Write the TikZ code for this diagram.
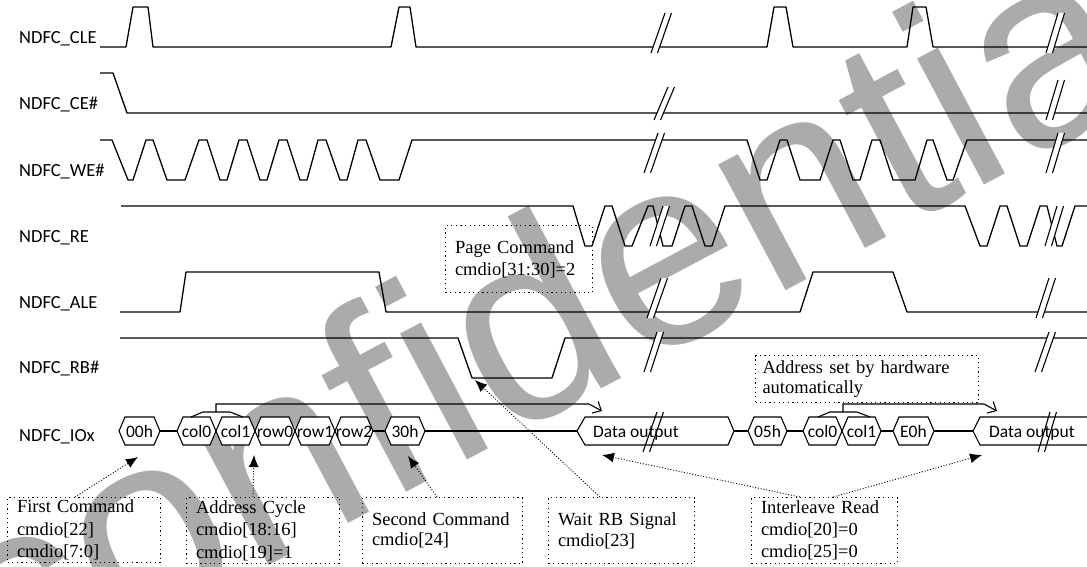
\documentclass[tikz,border=0pt]{standalone}
\usepackage{fontspec}
\setmainfont{Liberation Serif}
\newfontfamily\sigfont{Carlito}
\newfontfamily\wmfont{Liberation Sans}
\usetikzlibrary{arrows.meta,calc}

\newcommand\hexseg[4]{%
  \filldraw[hexline] (#2,431) -- (#2+6,417) -- (#3-6,417) -- (#3,431) -- (#3-6,445) -- (#2+6,445) -- cycle;
  \node[hextxt] (#1) at ({(#2+#3)/2},437) {#4};}
\newcommand\brkmark[4]{%
  \fill[white] (#1,#2) -- (#3,#4) -- (#3+6.5,#4) -- (#1+6.5,#2) -- cycle;
  \draw[brkline] (#1,#2) -- (#3,#4) (#1+6.5,#2) -- (#3+6.5,#4);}
\newcommand\brkmarkopen[4]{%
  \draw[brkline] (#1,#2) -- (#3,#4) (#1+6.5,#2) -- (#3+6.5,#4);}

\begin{document}
\begin{tikzpicture}[x=1pt,y=-1pt,
  sig/.style={line width=1.3pt, line join=round},
  hexline/.style={line width=1.1pt, fill=white, line join=miter},
  busline/.style={line width=1.1pt},
  brkline/.style={line width=1.1pt},
  lbl/.style={font=\sigfont\fontsize{18.5}{20}\selectfont, anchor=base west, inner sep=0pt},
  hextxt/.style={font=\sigfont\fontsize{17.5}{20}\selectfont, anchor=base, inner sep=0pt},
  dotbox/.style={draw, line width=1pt, dash pattern=on 1.2pt off 3.4pt, anchor=north west, align=left, inner xsep=9.5pt, inner ysep=0pt},
  dotarrow/.style={line width=0.9pt, dash pattern=on 1pt off 1.8pt, -{Latex[length=12pt,width=10pt]}},
  brarrow/.style={line width=1.1pt, -{Straight Barb[length=7pt,width=13pt]}},
  wm/.style={text=black!33, font=\wmfont\fontsize{270}{270}\selectfont, rotate=28, anchor=base west, inner sep=0pt}
]
\useasboundingbox (0,0) rectangle (1087,567);
\clip (0,0) rectangle (1087,567);

% watermark
\node[wm] (wm) at (1,708) {confidential};

% labels
\node[lbl] (lcle) at (19,43.5) {NDFC\_CLE};
\node[lbl] (lce)  at (19,110) {NDFC\_CE\#};
\node[lbl] (lwe)  at (19,176.5) {NDFC\_WE\#};
\node[lbl] (lre)  at (19,242) {NDFC\_RE};
\node[lbl] (lale) at (19,308) {NDFC\_ALE};
\node[lbl] (lrb)  at (19,373.5) {NDFC\_RB\#};
\node[lbl] (lio)  at (19,441) {NDFC\_IOx};

% CLE
\draw[sig] (100,47) -- (126,47) -- (133,7) -- (148,7) -- (153,47) -- (391,47) -- (399,7) -- (410,7) -- (416,47)
  -- (767,47) -- (774,7) -- (786,7) -- (793,47) -- (907,47) -- (913,7) -- (926,7) -- (933,47) -- (1090,47);
% CE#
\draw[sig] (100,73) -- (113,73) -- (127,113) -- (1090,113);
% WE#
\draw[sig] (100,140) -- (112,140) -- (128,180) -- (133,180) -- (146,140) -- (153,140) -- (167,180) -- (185,180)
  -- (199,140) -- (207,140) -- (220,180) -- (227,180) -- (239,140) -- (247,140) -- (260,180) -- (267,180)
  -- (279,140) -- (287,140) -- (300,180) -- (307,180) -- (318,140) -- (326,140) -- (340,180) -- (347,180)
  -- (358,140) -- (366,140) -- (380,180) -- (399,180) -- (412,140) -- (747,140) -- (760,180) -- (767,180)
  -- (780,140) -- (787,140) -- (800,180) -- (820,180) -- (833,140) -- (840,140) -- (853,180) -- (860,180)
  -- (872,140) -- (880,140) -- (893,180) -- (915,180) -- (927,140) -- (933,140) -- (947,180) -- (953,180)
  -- (967,140) -- (1090,140);
% RE
\draw[sig] (121,206) -- (573,206) -- (585,246) -- (592,246) -- (605,206) -- (612,206) -- (625,246) -- (632,246)
  -- (648,206) -- (653,206) -- (663,246) -- (672,246) -- (685,206) -- (692,206) -- (705,246) -- (712,246)
  -- (725,206) -- (965,206) -- (980,246) -- (987,246) -- (1000,206) -- (1007,206) -- (1020,246) -- (1027,246)
  -- (1040,206) -- (1047,206) -- (1057,246) -- (1062,246) -- (1075,206) -- (1090,206);
% ALE
\draw[sig] (120,312) -- (180,312) -- (186,272) -- (379,272) -- (386,312) -- (800,312) -- (813,272) -- (893,272)
  -- (907,312) -- (1090,312);
% RB#
\draw[sig] (120,338) -- (458,338) -- (472,378) -- (552,378) -- (565,338) -- (1090,338);

% IO bus connecting lines
\draw[busline] (160,431) -- (177,431) (373,431) -- (385,431) (425,431) -- (577,431)
  (734,431) -- (748,431) (787,431) -- (803,431) (881,431) -- (893,431) (934,431) -- (973,431);

\hexseg{h00}{119}{160}{00h}
\hexseg{hc0}{177}{216}{col0}
\hexseg{hc1}{216}{255}{col1}
\hexseg{hr0}{255}{295}{row0}
\hexseg{hr1}{295}{335}{row1}
\hexseg{hr2}{335}{373}{row2}
\hexseg{h30}{385}{425}{30h}
\hexseg{h05}{748}{787}{05h}
\hexseg{hd0}{803}{842}{col0}
\hexseg{hd1}{842}{881}{col1}
\hexseg{he0}{893}{934}{E0h}
\filldraw[hexline] (577,431) -- (585,417) -- (728,417) -- (734,431) -- (728,445) -- (585,445) -- cycle;
\node[hextxt, anchor=base west] (dout1) at (593,437) {Data output};
\filldraw[hexline] (1095,417) -- (980,417) -- (973,431) -- (980,445) -- (1095,445);
\node[hextxt, anchor=base west] (dout2) at (989,437) {Data output};

% breaks
\brkmark{651}{53}{665}{13}
\brkmark{1046}{53}{1058}{13}
\brkmark{654}{120}{668}{87}
\brkmark{1046}{120}{1058}{80}
\brkmark{644}{173}{658}{133}
\brkmark{1046}{173}{1058}{133}
\brkmark{650}{246}{663}{206}
\brkmark{1045}{246}{1057}{206}
\brkmark{647}{318}{661}{278}
\brkmark{1036}{318}{1049}{278}
\brkmark{644}{372}{657}{332}
\brkmark{1035}{372}{1049}{332}
\brkmarkopen{643}{452}{657}{412}
\brkmarkopen{1038}{452}{1050}{412}

% address brackets with arrows
\coordinate (a1) at (602,411);
\coordinate (a2) at (997,411);
\draw[busline] (191,417) -- (203,412) -- (230,412) -- (243,417);
\draw[brarrow] (216,412) -- (216,404) -- (589,404) -- (a1);
\draw[busline] (818,417) -- (830,412) -- (857,412) -- (870,417);
\draw[brarrow] (843,412) -- (843,404) -- (984,404) -- (a2);

% annotation boxes
\node[dotbox, font=\fontsize{18.5}{22}\selectfont, text width=128pt, minimum height=67pt] (pcbox) at (445,225) {Page Command\\cmdio[31:30]=2};
\node[dotbox, font=\fontsize{18.5}{20}\selectfont, inner xsep=7pt, text width=209pt, minimum height=47pt] (asbox) at (755,355) {Address set by hardware\\automatically};
\node[dotbox, font=\fontsize{18.5}{22.5}\selectfont, text width=134pt, minimum height=65pt] (fcbox) at (7,497) {First Command\\cmdio[22]\\cmdio[7:0]};
\node[dotbox, font=\fontsize{18.5}{22.5}\selectfont, text width=134pt, minimum height=66pt] (acbox) at (186,497) {Address Cycle\\cmdio[18:16]\\cmdio[19]=1};
\node[dotbox, font=\fontsize{18.5}{20}\selectfont, text width=141pt, minimum height=66pt] (scbox) at (362,497) {Second Command\\cmdio[24]};
\node[dotbox, font=\fontsize{18.5}{21}\selectfont, text width=127pt, minimum height=66pt] (wrbox) at (548,497) {Wait RB Signal\\cmdio[23]};
\node[dotbox, font=\fontsize{18.5}{22}\selectfont, text width=127pt, minimum height=66pt] (irbox) at (751,497) {Interleave Read\\cmdio[20]=0\\cmdio[25]=0};

% dotted arrows
\coordinate (t00) at (138,457);
\coordinate (tac) at (254,455);
\coordinate (t30) at (408,456);
\coordinate (trb) at (475,380);
\coordinate (td1) at (602,455);
\coordinate (td2) at (982,455);
\draw[dotarrow] (fcbox.north west) ++(68,0) -- (t00);
\draw[dotarrow] (acbox.north west) ++(67,0) -- (tac);
\draw[dotarrow] (scbox.north west) ++(75,0) -- (t30);
\draw[dotarrow] (wrbox.north west) ++(52,0) -- (trb);
\draw[dotarrow] (irbox.north west) ++(49,0) -- (td1);
\draw[dotarrow] (irbox.north west) ++(82,0) -- (td2);
\end{tikzpicture}
\end{document}
